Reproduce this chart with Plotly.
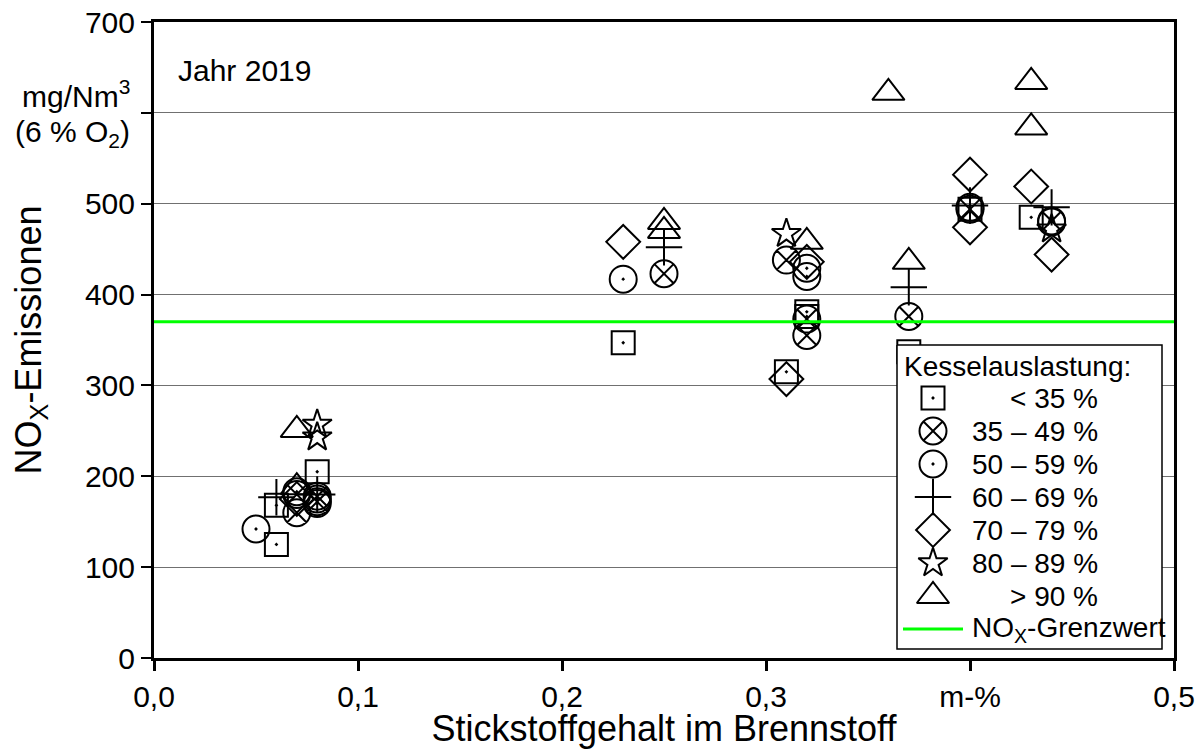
import plotly.graph_objects as go

# Kesselauslastung categories (legend labels)
categories = ["< 35 %", "35 – 49 %", "50 – 59 %", "60 – 69 %", "70 – 79 %", "80 – 89 %", "> 90 %"]
legend_title = "Kesselauslastung:"
limit_label = "NO<sub>X</sub>-Grenzwert"

# Stickstoffgehalt (m-%) and NOx (mg/Nm3) per category
x_lt35 = [0.06, 0.06, 0.08, 0.23, 0.31, 0.32, 0.32, 0.37, 0.40, 0.43]
y_lt35 = [125, 168, 205, 347, 315, 381, 376, 337, 494, 485]

x_35_49 = [0.07, 0.07, 0.08, 0.08, 0.25, 0.31, 0.32, 0.32, 0.37, 0.40, 0.44]
y_35_49 = [160, 180, 172, 178, 423, 438, 373, 355, 376, 494, 481]

x_50_59 = [0.05, 0.07, 0.08, 0.08, 0.23, 0.32, 0.32, 0.40, 0.44]
y_50_59 = [142, 183, 170, 175, 417, 429, 420, 496, 480]

x_60_69 = [0.06, 0.08, 0.25, 0.37, 0.40, 0.44]
y_60_69 = [177, 180, 452, 408, 498, 496]

x_70_79 = [0.07, 0.23, 0.31, 0.32, 0.40, 0.40, 0.43, 0.44]
y_70_79 = [175, 458, 307, 436, 532, 474, 519, 444]

x_80_89 = [0.08, 0.08, 0.31, 0.44]
y_80_89 = [257, 243, 467, 472]

x_gt90 = [0.07, 0.07, 0.25, 0.25, 0.32, 0.36, 0.37, 0.43, 0.43]
y_gt90 = [251, 188, 480, 470, 458, 622, 436, 634, 584]

grenzwert_x = [0.0, 0.5]
grenzwert_y = [370, 370]

x_tickvals = [0.0, 0.1, 0.2, 0.3, 0.4, 0.5]
x_ticktext = ["0,0", "0,1", "0,2", "0,3", "m-%", "0,5"]
y_tickvals = [0, 100, 200, 300, 400, 500, 600, 700]
y_ticktext = ["0", "100", "200", "300", "400", "500", "", "700"]

# style per category: (symbol, size)
styles = [
    ("square-open-dot", 23),
    ("circle-x-open", 27),
    ("circle-open-dot", 27),
    ("cross-thin-open", 26),
    ("diamond-open", 26),
    ("star-open", 22),
    ("triangle-up-open", 28),
]
data_x = [x_lt35, x_35_49, x_50_59, x_60_69, x_70_79, x_80_89, x_gt90]
data_y = [y_lt35, y_35_49, y_50_59, y_60_69, y_70_79, y_80_89, y_gt90]

FONT = "Liberation Sans, Arial, sans-serif"
FS = 30
LFS = 28
L, R, T, B = 154, 1174, 22, 658  # plot area in pixels

fig = go.Figure()

for xs, ys, (sym, sz), name in zip(data_x, data_y, styles, categories):
    fig.add_trace(go.Scatter(
        x=xs, y=ys, mode="markers", name=name, showlegend=False,
        marker=dict(symbol=sym, size=sz, color="black",
                    line=dict(color="black", width=2)),
    ))

fig.add_trace(go.Scatter(
    x=grenzwert_x, y=grenzwert_y, mode="lines", name="NOx-Grenzwert",
    showlegend=False, line=dict(color="#00ff00", width=3),
))

# ---- hand-made legend on a pixel-coordinate overlay axis ----
box_l, box_t, box_r, box_b = 897, 345, 1162, 649
row0, row_step = 398, 33
sym_x, text_x, text_x_ind = 933, 970, 1008

fig.add_trace(go.Scatter(
    x=[box_l, box_r, box_r, box_l, box_l], y=[box_t, box_t, box_b, box_b, box_t],
    xaxis="x2", yaxis="y2", mode="lines", fill="toself", fillcolor="white",
    line=dict(color="black", width=1.5), showlegend=False, hoverinfo="skip",
))

annotations = [
    dict(text=legend_title, xref="x2", yref="y2", x=box_l + 5, y=box_t + 21,
         xanchor="left", yanchor="middle", showarrow=False,
         font=dict(size=LFS)),
]
for i, ((sym, sz), name) in enumerate(zip(styles, categories)):
    ry = row0 + i * row_step
    fig.add_trace(go.Scatter(
        x=[sym_x], y=[ry], xaxis="x2", yaxis="y2", mode="markers",
        showlegend=False, hoverinfo="skip", cliponaxis=False,
        marker=dict(symbol=sym, size=sz, color="black",
                    line=dict(color="black", width=2)),
    ))
    tx = text_x_ind if name[0] in "<>" else text_x
    annotations.append(dict(text=name, xref="x2", yref="y2", x=tx, y=ry,
                            xanchor="left", yanchor="middle", showarrow=False,
                            font=dict(size=LFS)))
ry = row0 + len(categories) * row_step
fig.add_trace(go.Scatter(
    x=[box_l + 6, 963], y=[ry, ry], xaxis="x2", yaxis="y2", mode="lines",
    showlegend=False, hoverinfo="skip", line=dict(color="#00ff00", width=3),
))
annotations.append(dict(text=limit_label, xref="x2", yref="y2", x=text_x, y=ry,
                        xanchor="left", yanchor="middle", showarrow=False,
                        font=dict(size=LFS)))

annotations += [
    dict(text="Jahr 2019", xref="x2", yref="y2", x=176, y=70,
         xanchor="left", yanchor="middle", showarrow=False, font=dict(size=FS)),
    dict(text="mg/Nm<sup>3</sup>", xref="paper", yref="y2", x=-0.022, y=94,
         xanchor="right", yanchor="middle", showarrow=False, font=dict(size=FS)),
    dict(text="(6 % O<sub>2</sub>)", xref="paper", yref="y2", x=-0.022, y=133,
         xanchor="right", yanchor="middle", showarrow=False, font=dict(size=FS)),
]

fig.update_layout(
    width=1201, height=749,
    margin=dict(l=L, r=1201 - R, t=T, b=749 - B, autoexpand=False),
    paper_bgcolor="white", plot_bgcolor="white",
    font=dict(family=FONT, size=FS, color="black"),
    showlegend=False,
    xaxis=dict(
        range=[0, 0.5], tickvals=x_tickvals, ticktext=x_ticktext,
        ticks="outside", ticklen=10, tickwidth=3, tickcolor="black",
        showline=True, linewidth=3, linecolor="black", mirror=True,
        showgrid=False, zeroline=False, automargin=False,
        title=dict(text="Stickstoffgehalt im Brennstoff", standoff=5),
    ),
    yaxis=dict(
        range=[0, 700], tickvals=y_tickvals, ticktext=y_ticktext,
        ticks="outside", ticklen=10, tickwidth=2, tickcolor="black",
        showline=True, linewidth=3, linecolor="black", mirror=True,
        showgrid=True, gridcolor="#707070", gridwidth=1,
        zeroline=False, automargin=False,
        title=dict(text="NO<sub>X</sub>-Emissionen", standoff=33),
    ),
    xaxis2=dict(range=[L, R], overlaying="x", visible=False, domain=[0, 1]),
    yaxis2=dict(range=[B, T], overlaying="y", visible=False),
    annotations=annotations,
)

fig.write_html("out.html", post_script="document.body.style.margin='0';",
               config={"displayModeBar": False})
